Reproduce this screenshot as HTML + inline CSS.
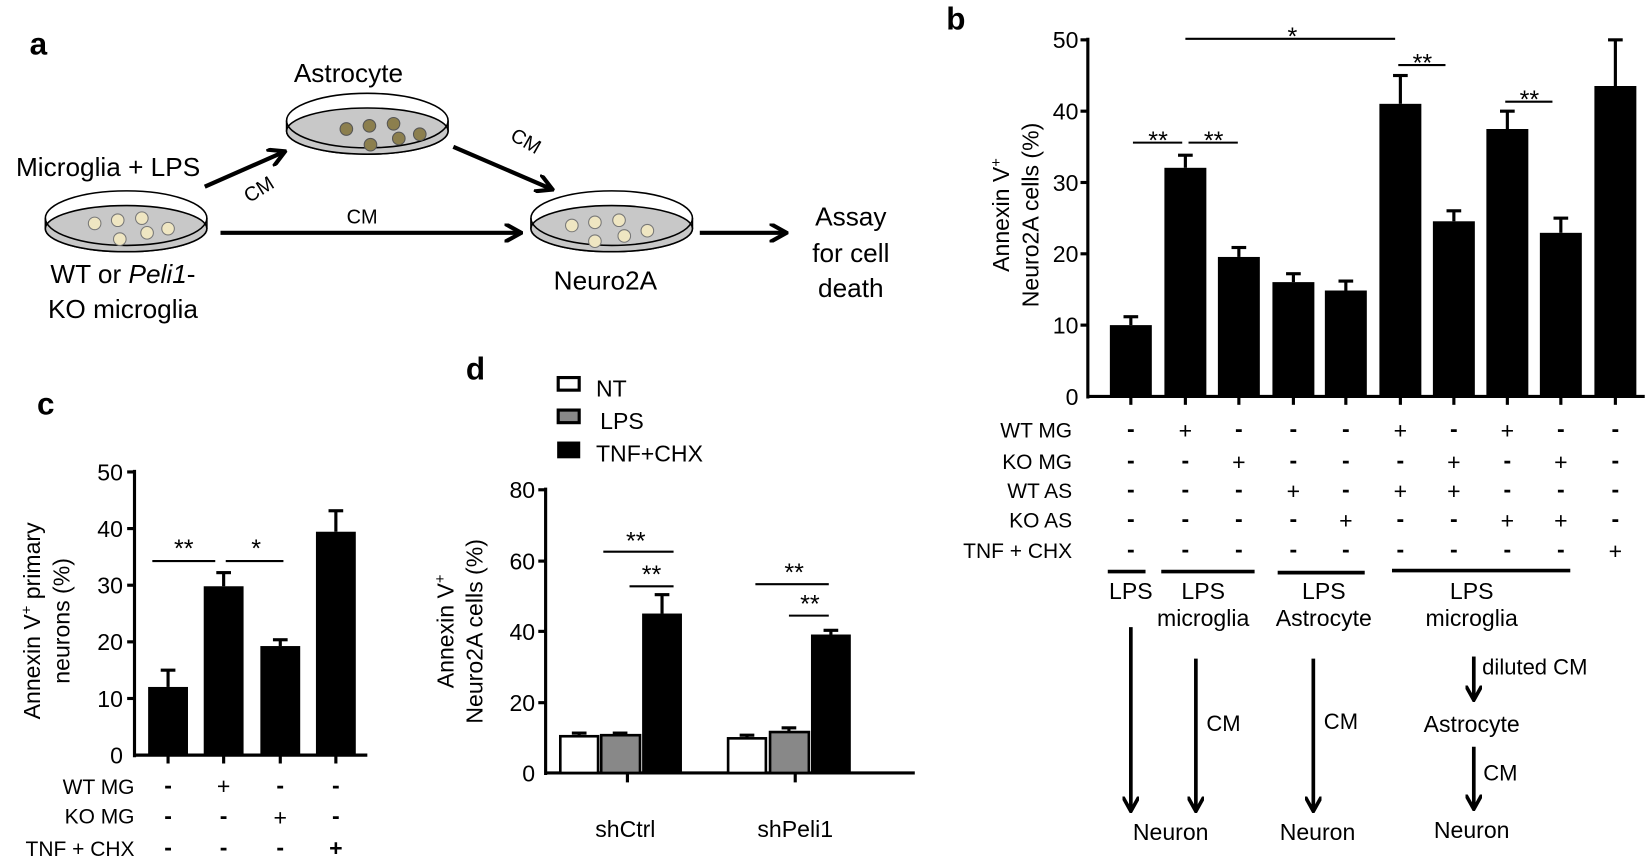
<!DOCTYPE html>
<html><head><meta charset="utf-8"><style>
html,body{margin:0;padding:0;background:#fff;}
svg{display:block;}
text{font-family:"Liberation Sans",Arial,sans-serif;fill:#000;}
.m{font-weight:bold;}
</style></head><body>
<svg width="1645" height="860" viewBox="0 0 1568 820" xmlns="http://www.w3.org/2000/svg">
<defs>
<marker id="ah" viewBox="0 0 10 10" refX="8" refY="5" markerWidth="4.5" markerHeight="4.5" orient="auto-start-reverse" markerUnits="strokeWidth">
<path d="M0,0 L9,5 L0,10" fill="none" stroke="#000" stroke-width="2.2"/>
</marker>
</defs>
<!-- Panel a -->
<text x="28" y="52" font-size="30" font-weight="bold">a</text>
<g stroke="#000" stroke-width="1.5">
<path d="M43,208 L43,218 A77,22 0 0 0 197,218 L197,208" fill="#fff"/>
<ellipse cx="120" cy="218" rx="77" ry="22" fill="#c8c8c8"/>
<ellipse cx="120" cy="208" rx="77" ry="26" fill="none"/>
<path d="M273,115 L273,125 A77,22 0 0 0 427,125 L427,115" fill="#fff"/>
<ellipse cx="350" cy="125" rx="77" ry="22" fill="#c8c8c8"/>
<ellipse cx="350" cy="115" rx="77" ry="26" fill="none"/>
<path d="M506,208 L506,218 A77,22 0 0 0 660,218 L660,208" fill="#fff"/>
<ellipse cx="583" cy="218" rx="77" ry="22" fill="#c8c8c8"/>
<ellipse cx="583" cy="208" rx="77" ry="26" fill="none"/>
</g>
<g fill="#efe6c2" stroke="#777" stroke-width="1">
<circle cx="90" cy="213" r="6"/><circle cx="112" cy="210" r="6"/><circle cx="135" cy="208" r="6"/><circle cx="114" cy="228" r="6"/><circle cx="140" cy="222" r="6"/><circle cx="160" cy="218" r="6"/>
<circle cx="545" cy="215" r="6"/><circle cx="567" cy="212" r="6"/><circle cx="590" cy="210" r="6"/><circle cx="567" cy="230" r="6"/><circle cx="595" cy="225" r="6"/><circle cx="617" cy="220" r="6"/>
</g>
<g fill="#8c7f4e" stroke="#555" stroke-width="1">
<circle cx="330" cy="123" r="6"/><circle cx="352" cy="120" r="6"/><circle cx="375" cy="118" r="6"/><circle cx="353" cy="138" r="6"/><circle cx="380" cy="132" r="6"/><circle cx="400" cy="128" r="6"/>
</g>
<g stroke="#000" stroke-width="4" fill="none" marker-end="url(#ah)">
<line x1="195" y1="178" x2="270" y2="145"/>
<line x1="432" y1="140" x2="525" y2="180"/>
<line x1="210" y1="222" x2="495" y2="222"/>
<line x1="667" y1="222" x2="748" y2="222"/>
</g>
<text x="15" y="168" font-size="25">Microglia + LPS</text>
<text x="332" y="78" font-size="25" text-anchor="middle">Astrocyte</text>
<text x="250" y="186" font-size="19" text-anchor="middle" transform="rotate(-32 250 186)">CM</text>
<text x="498" y="140" font-size="19" text-anchor="middle" transform="rotate(30 498 140)">CM</text>
<text x="345" y="213" font-size="19" text-anchor="middle">CM</text>
<text x="117" y="270" font-size="25" text-anchor="middle">WT or <tspan font-style="italic">Peli1</tspan>-</text>
<text x="117" y="303" font-size="25" text-anchor="middle">KO microglia</text>
<text x="577" y="276" font-size="25" text-anchor="middle">Neuro2A</text>
<text x="811" y="215" font-size="25" text-anchor="middle">Assay</text>
<text x="811" y="250" font-size="25" text-anchor="middle">for cell</text>
<text x="811" y="283" font-size="25" text-anchor="middle">death</text>

<!-- Panel b -->
<text x="902" y="28" font-size="30" font-weight="bold">b</text>
<g stroke="#000" stroke-width="3">
<line x1="1037" y1="36" x2="1037" y2="380"/>
<line x1="1036" y1="378" x2="1568" y2="378"/>
<line x1="1030" y1="38" x2="1037" y2="38"/><line x1="1030" y1="106" x2="1037" y2="106"/><line x1="1030" y1="174" x2="1037" y2="174"/><line x1="1030" y1="242" x2="1037" y2="242"/><line x1="1030" y1="310" x2="1037" y2="310"/>
<line x1="1078" y1="378" x2="1078" y2="386"/><line x1="1130" y1="378" x2="1130" y2="386"/><line x1="1181" y1="378" x2="1181" y2="386"/><line x1="1233" y1="378" x2="1233" y2="386"/><line x1="1283" y1="378" x2="1283" y2="386"/><line x1="1335" y1="378" x2="1335" y2="386"/><line x1="1386" y1="378" x2="1386" y2="386"/><line x1="1437" y1="378" x2="1437" y2="386"/><line x1="1488" y1="378" x2="1488" y2="386"/><line x1="1540" y1="378" x2="1540" y2="386"/>
</g>
<g font-size="22" text-anchor="end">
<text x="1028" y="46">50</text><text x="1028" y="114">40</text><text x="1028" y="182">30</text><text x="1028" y="250">20</text><text x="1028" y="318">10</text><text x="1028" y="386">0</text>
</g>
<text font-size="22" text-anchor="middle" transform="translate(962 205) rotate(-90)">Annexin V<tspan font-size="14" dy="-8">+</tspan></text>
<text font-size="22" text-anchor="middle" transform="translate(990 205) rotate(-90)">Neuro2A cells (%)</text>
<g fill="#000">
<rect x="1058" y="310" width="40" height="68"/>
<rect x="1110" y="160" width="40" height="218"/>
<rect x="1161" y="245" width="40" height="133"/>
<rect x="1213" y="269" width="40" height="109"/>
<rect x="1263" y="277" width="40" height="101"/>
<rect x="1315" y="99" width="40" height="279"/>
<rect x="1366" y="211" width="40" height="167"/>
<rect x="1417" y="123" width="40" height="255"/>
<rect x="1468" y="222" width="40" height="156"/>
<rect x="1520" y="82" width="40" height="296"/>
</g>
<g stroke="#000" stroke-width="3">
<line x1="1078" y1="310" x2="1078" y2="302"/><line x1="1071" y1="302" x2="1085" y2="302"/>
<line x1="1130" y1="160" x2="1130" y2="148"/><line x1="1123" y1="148" x2="1137" y2="148"/>
<line x1="1181" y1="245" x2="1181" y2="236"/><line x1="1174" y1="236" x2="1188" y2="236"/>
<line x1="1233" y1="269" x2="1233" y2="261"/><line x1="1226" y1="261" x2="1240" y2="261"/>
<line x1="1283" y1="277" x2="1283" y2="268"/><line x1="1276" y1="268" x2="1290" y2="268"/>
<line x1="1335" y1="99" x2="1335" y2="72"/><line x1="1328" y1="72" x2="1342" y2="72"/>
<line x1="1386" y1="211" x2="1386" y2="201"/><line x1="1379" y1="201" x2="1393" y2="201"/>
<line x1="1437" y1="123" x2="1437" y2="106"/><line x1="1430" y1="106" x2="1444" y2="106"/>
<line x1="1488" y1="222" x2="1488" y2="208"/><line x1="1481" y1="208" x2="1495" y2="208"/>
<line x1="1540" y1="82" x2="1540" y2="38"/><line x1="1533" y1="38" x2="1547" y2="38"/>
</g>
<g stroke="#000" stroke-width="2">
<line x1="1080" y1="136" x2="1127" y2="136"/><line x1="1133" y1="136" x2="1180" y2="136"/>
<line x1="1130" y1="37" x2="1330" y2="37"/>
<line x1="1333" y1="62" x2="1378" y2="62"/><line x1="1435" y1="97" x2="1480" y2="97"/>
</g>
<g font-size="24" text-anchor="middle">
<text x="1104" y="142">**</text><text x="1157" y="142">**</text><text x="1232" y="43">*</text><text x="1356" y="68">**</text><text x="1458" y="103">**</text>
</g>
<g font-size="20" text-anchor="end">
<text x="1022" y="417">WT MG</text><text x="1022" y="447">KO MG</text><text x="1022" y="475">WT AS</text><text x="1022" y="503">KO AS</text><text x="1022" y="532">TNF + CHX</text>
</g>
<g font-size="22" text-anchor="middle">
<text class="m" x="1078" y="416">-</text><text x="1130" y="418">+</text><text class="m" x="1181" y="416">-</text><text class="m" x="1233" y="416">-</text><text class="m" x="1283" y="416">-</text><text x="1335" y="418">+</text><text class="m" x="1386" y="416">-</text><text x="1437" y="418">+</text><text class="m" x="1488" y="416">-</text><text class="m" x="1540" y="416">-</text>
<text class="m" x="1078" y="446">-</text><text class="m" x="1130" y="446">-</text><text x="1181" y="448">+</text><text class="m" x="1233" y="446">-</text><text class="m" x="1283" y="446">-</text><text class="m" x="1335" y="446">-</text><text x="1386" y="448">+</text><text class="m" x="1437" y="446">-</text><text x="1488" y="448">+</text><text class="m" x="1540" y="446">-</text>
<text class="m" x="1078" y="474">-</text><text class="m" x="1130" y="474">-</text><text class="m" x="1181" y="474">-</text><text x="1233" y="476">+</text><text class="m" x="1283" y="474">-</text><text x="1335" y="476">+</text><text x="1386" y="476">+</text><text class="m" x="1437" y="474">-</text><text class="m" x="1488" y="474">-</text><text class="m" x="1540" y="474">-</text>
<text class="m" x="1078" y="502">-</text><text class="m" x="1130" y="502">-</text><text class="m" x="1181" y="502">-</text><text class="m" x="1233" y="502">-</text><text x="1283" y="504">+</text><text class="m" x="1335" y="502">-</text><text class="m" x="1386" y="502">-</text><text x="1437" y="504">+</text><text x="1488" y="504">+</text><text class="m" x="1540" y="502">-</text>
<text class="m" x="1078" y="531">-</text><text class="m" x="1130" y="531">-</text><text class="m" x="1181" y="531">-</text><text class="m" x="1233" y="531">-</text><text class="m" x="1283" y="531">-</text><text class="m" x="1335" y="531">-</text><text class="m" x="1386" y="531">-</text><text class="m" x="1437" y="531">-</text><text class="m" x="1488" y="531">-</text><text x="1540" y="533">+</text>
</g>
<g stroke="#000" stroke-width="3.5">
<line x1="1056" y1="545" x2="1092" y2="545"/><line x1="1107" y1="545" x2="1196" y2="545"/><line x1="1218" y1="546" x2="1301" y2="546"/><line x1="1327" y1="544" x2="1497" y2="544"/>
</g>
<g font-size="22" text-anchor="middle">
<text x="1078" y="571">LPS</text><text x="1147" y="571">LPS</text><text x="1147" y="597">microglia</text>
<text x="1262" y="571">LPS</text><text x="1262" y="597">Astrocyte</text>
<text x="1403" y="571">LPS</text><text x="1403" y="597">microglia</text>
<text x="1403" y="698">Astrocyte</text>
<text x="1116" y="801">Neuron</text><text x="1256" y="801">Neuron</text><text x="1403" y="799">Neuron</text>
</g>
<g font-size="21">
<text x="1150" y="697">CM</text><text x="1262" y="695">CM</text><text x="1413" y="643">diluted CM</text><text x="1414" y="744">CM</text>
</g>
<g stroke="#000" stroke-width="3.5" fill="none" marker-end="url(#ah)">
<line x1="1078" y1="598" x2="1078" y2="772"/>
<line x1="1140" y1="628" x2="1140" y2="772"/>
<line x1="1252" y1="628" x2="1252" y2="772"/>
<line x1="1405" y1="626" x2="1405" y2="666"/>
<line x1="1405" y1="712" x2="1405" y2="770"/>
</g>

<!-- Panel c -->
<text x="35" y="395" font-size="30" font-weight="bold">c</text>
<g stroke="#000" stroke-width="3">
<line x1="128" y1="448" x2="128" y2="722"/>
<line x1="127" y1="720" x2="350" y2="720"/>
<line x1="121" y1="450" x2="128" y2="450"/><line x1="121" y1="504" x2="128" y2="504"/><line x1="121" y1="558" x2="128" y2="558"/><line x1="121" y1="612" x2="128" y2="612"/><line x1="121" y1="666" x2="128" y2="666"/>
<line x1="160" y1="720" x2="160" y2="728"/><line x1="213" y1="720" x2="213" y2="728"/><line x1="267" y1="720" x2="267" y2="728"/><line x1="320" y1="720" x2="320" y2="728"/>
</g>
<g font-size="22" text-anchor="end">
<text x="117" y="458">50</text><text x="117" y="512">40</text><text x="117" y="566">30</text><text x="117" y="620">20</text><text x="117" y="674">10</text><text x="117" y="728">0</text>
</g>
<text font-size="22" text-anchor="middle" transform="translate(38 592) rotate(-90)">Annexin V<tspan font-size="14" dy="-8">+</tspan><tspan dy="8"> primary</tspan></text>
<text font-size="22" text-anchor="middle" transform="translate(66 592) rotate(-90)">neurons (%)</text>
<g fill="#000">
<rect x="141" y="655" width="38" height="65"/>
<rect x="194" y="559" width="38" height="161"/>
<rect x="248" y="616" width="38" height="104"/>
<rect x="301" y="507" width="38" height="213"/>
</g>
<g stroke="#000" stroke-width="3">
<line x1="160" y1="655" x2="160" y2="639"/><line x1="153" y1="639" x2="167" y2="639"/>
<line x1="213" y1="559" x2="213" y2="546"/><line x1="206" y1="546" x2="220" y2="546"/>
<line x1="267" y1="616" x2="267" y2="610"/><line x1="260" y1="610" x2="274" y2="610"/>
<line x1="320" y1="507" x2="320" y2="487"/><line x1="313" y1="487" x2="327" y2="487"/>
</g>
<g stroke="#000" stroke-width="2"><line x1="145" y1="535" x2="205" y2="535"/><line x1="215" y1="535" x2="270" y2="535"/></g>
<g font-size="24" text-anchor="middle"><text x="175" y="531">**</text><text x="244" y="531">*</text></g>
<g font-size="20" text-anchor="end"><text x="128" y="757">WT MG</text><text x="128" y="785">KO MG</text><text x="128" y="816">TNF + CHX</text></g>
<g font-size="22" text-anchor="middle">
<text class="m" x="160" y="756">-</text><text x="213" y="757">+</text><text class="m" x="267" y="756">-</text><text class="m" x="320" y="756">-</text>
<text class="m" x="160" y="785">-</text><text class="m" x="213" y="785">-</text><text x="267" y="787">+</text><text class="m" x="320" y="785">-</text>
<text class="m" x="160" y="815">-</text><text class="m" x="213" y="815">-</text><text class="m" x="267" y="815">-</text><text class="m" x="320" y="816">+</text>
</g>

<!-- Panel d -->
<text x="444" y="362" font-size="30" font-weight="bold">d</text>
<rect x="532" y="360" width="20" height="12" fill="#fff" stroke="#000" stroke-width="3"/>
<rect x="532" y="391" width="20" height="12" fill="#888" stroke="#000" stroke-width="3"/>
<rect x="531" y="421" width="22" height="16" fill="#000"/>
<g font-size="22"><text x="568" y="378">NT</text><text x="572" y="409">LPS</text><text x="568" y="440">TNF+CHX</text></g>
<g stroke="#000" stroke-width="3">
<line x1="520" y1="465" x2="520" y2="739"/>
<line x1="519" y1="737" x2="872" y2="737"/>
<line x1="513" y1="467" x2="520" y2="467"/><line x1="513" y1="535" x2="520" y2="535"/><line x1="513" y1="602" x2="520" y2="602"/><line x1="513" y1="670" x2="520" y2="670"/>
<line x1="598" y1="737" x2="598" y2="746"/><line x1="758" y1="737" x2="758" y2="746"/>
</g>
<g font-size="22" text-anchor="end">
<text x="510" y="475">80</text><text x="510" y="543">60</text><text x="510" y="610">40</text><text x="510" y="678">20</text><text x="510" y="745">0</text>
</g>
<text font-size="22" text-anchor="middle" transform="translate(432 602) rotate(-90)">Annexin V<tspan font-size="14" dy="-8">+</tspan></text>
<text font-size="22" text-anchor="middle" transform="translate(460 602) rotate(-90)">Neuro2A cells (%)</text>
<g stroke="#000" stroke-width="2.5">
<rect x="534" y="702" width="36" height="35" fill="#fff"/>
<rect x="573" y="701" width="37" height="36" fill="#888"/>
<rect x="694" y="704" width="36" height="33" fill="#fff"/>
<rect x="734" y="698" width="37" height="39" fill="#888"/>
</g>
<g fill="#000"><rect x="612" y="585" width="38" height="152"/><rect x="773" y="605" width="38" height="132"/></g>
<g stroke="#000" stroke-width="3">
<line x1="552" y1="702" x2="552" y2="699"/><line x1="545" y1="699" x2="559" y2="699"/>
<line x1="591" y1="701" x2="591" y2="699"/><line x1="584" y1="699" x2="598" y2="699"/>
<line x1="631" y1="585" x2="631" y2="567"/><line x1="624" y1="567" x2="638" y2="567"/>
<line x1="712" y1="704" x2="712" y2="701"/><line x1="705" y1="701" x2="719" y2="701"/>
<line x1="752" y1="698" x2="752" y2="694"/><line x1="745" y1="694" x2="759" y2="694"/>
<line x1="792" y1="605" x2="792" y2="601"/><line x1="785" y1="601" x2="799" y2="601"/>
</g>
<g stroke="#000" stroke-width="2">
<line x1="575" y1="526" x2="642" y2="526"/><line x1="600" y1="559" x2="642" y2="559"/>
<line x1="720" y1="557" x2="790" y2="557"/><line x1="752" y1="587" x2="790" y2="587"/>
</g>
<g font-size="24" text-anchor="middle">
<text x="606" y="524">**</text><text x="621" y="556">**</text><text x="757" y="554">**</text><text x="772" y="584">**</text>
</g>
<g font-size="22" text-anchor="middle"><text x="596" y="798">shCtrl</text><text x="758" y="798">shPeli1</text></g>
</svg>
</body></html>
